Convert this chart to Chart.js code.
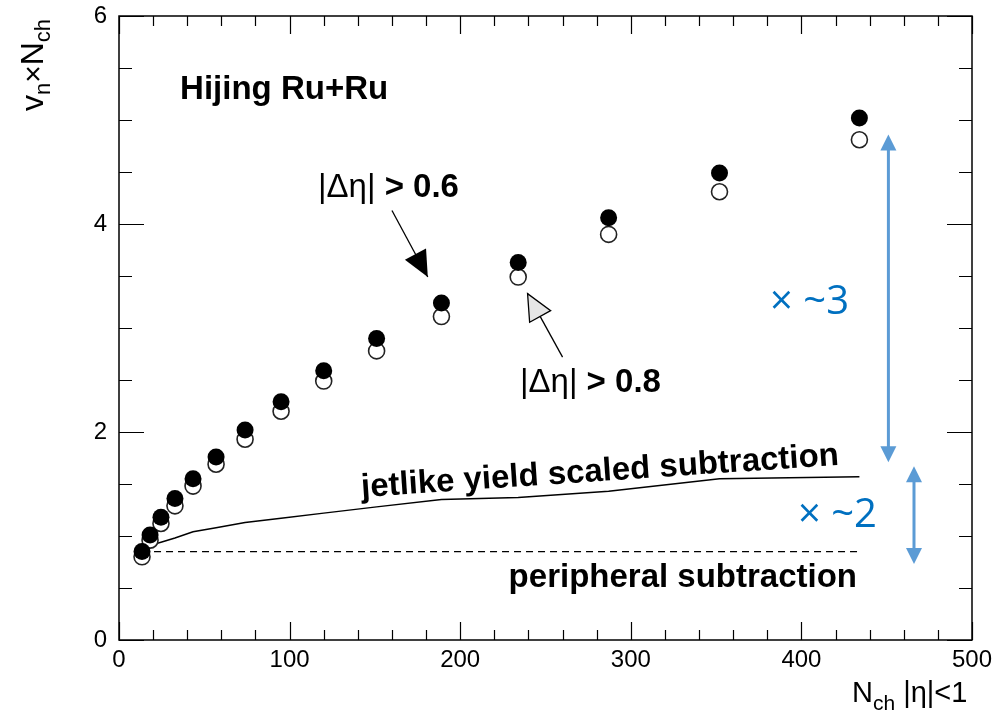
<!DOCTYPE html>
<html>
<head>
<meta charset="utf-8">
<script src="https://cdn.jsdelivr.net/npm/chart.js@4.4.0/dist/chart.umd.min.js"></script>
<style>
html, body { margin: 0; padding: 0; background: #fff; }
#wrap { width: 1007px; height: 721px; }
</style>
</head>
<body>
<div id="wrap"><canvas id="vnChart" width="1007" height="721"></canvas></div>
<script>
// Multiplicity bins (Nch, |eta|<1)
const nch = [13.5, 18.2, 24.6, 32.8, 43.4, 56.9, 73.9, 95, 120, 151, 189, 234, 287, 352, 434];
// vn x Nch for the two eta gaps
const vnEta06 = [0.85, 1.01, 1.18, 1.36, 1.55, 1.76, 2.02, 2.29, 2.59, 2.90, 3.24, 3.63, 4.06, 4.49, 5.02];
const vnEta08 = [0.80, 0.96, 1.12, 1.29, 1.48, 1.69, 1.93, 2.20, 2.49, 2.78, 3.11, 3.49, 3.90, 4.31, 4.81];
// Non-flow estimates
const jetlikeSub = [0.87, 0.91, 0.94, 0.98, 1.04, 1.08, 1.13, 1.17, 1.22, 1.28, 1.35, 1.37, 1.43, 1.55, 1.57];
const peripheralSub = [0.85, 0.85];
const peripheralX = [13.5, 434];
// Labelled ticks
const xTickLabels = [0, 100, 200, 300, 400, 500];
const yTickLabels = [0, 2, 4, 6];

const FONT = '"Liberation Sans", Arial, Helvetica, sans-serif';
const NARROW = '"Liberation Sans Narrow", "Arial Narrow", "Liberation Sans", sans-serif';
const BLUE_LINE = '#5b9bd5';
const BLUE_TEXT = '#0070c0';

function toPoints(xs, ys) {
    return xs.map((x, i) => ({ x: x, y: ys[i] }));
}

// Triangle head pointing at (x2, y2) along the x1,y1 -> x2,y2 direction
function drawArrowHead(ctx, x1, y1, x2, y2, len, half) {
    const ang = Math.atan2(y2 - y1, x2 - x1);
    const bx = x2 - len * Math.cos(ang);
    const by = y2 - len * Math.sin(ang);
    ctx.beginPath();
    ctx.moveTo(x2, y2);
    ctx.lineTo(bx + half * Math.sin(ang), by - half * Math.cos(ang));
    ctx.lineTo(bx - half * Math.sin(ang), by + half * Math.cos(ang));
    ctx.closePath();
}

// Draws a run of [text, size, weight, dy] pieces left to right
function drawRuns(ctx, runs, x, y, family) {
    let cx = x;
    runs.forEach(r => {
        ctx.font = `${r[2] || 'normal'} ${r[1]}px ${family || FONT}`;
        ctx.fillText(r[0], cx, y + (r[3] || 0));
        cx += ctx.measureText(r[0]).width;
    });
}

const frameAndLabels = {
    id: 'frameAndLabels',
    afterDatasetsDraw(chart) {
        const { ctx, chartArea: a, scales: { x, y } } = chart;
        const px = v => x.getPixelForValue(v);
        const py = v => y.getPixelForValue(v);
        ctx.save();

        // frame + inward ticks on all four sides
        ctx.strokeStyle = '#000';
        ctx.lineWidth = 1.5;
        ctx.strokeRect(a.left, a.top, a.width, a.height);
        ctx.lineWidth = 1.2;
        ctx.beginPath();
        x.ticks.forEach(t => {
            const p = Math.round(px(t.value)) + 0.5;
            const len = t.value % 100 === 0 ? 18 : 10;
            ctx.moveTo(p, a.bottom); ctx.lineTo(p, a.bottom - len);
            ctx.moveTo(p, a.top); ctx.lineTo(p, a.top + len);
        });
        y.ticks.forEach(t => {
            const p = Math.round(py(t.value)) + 0.5;
            const len = t.value % 2 === 0 ? 25 : 13;
            ctx.moveTo(a.left, p); ctx.lineTo(a.left + len, p);
            ctx.moveTo(a.right, p); ctx.lineTo(a.right - len, p);
        });
        ctx.stroke();

        ctx.fillStyle = '#000';
        ctx.textBaseline = 'alphabetic';
        ctx.textAlign = 'left';

        // axis titles
        drawRuns(ctx, [['N', 29], ['ch', 21, 'normal', 8], [' |\u03b7|<1', 29]], 852, 702);
        ctx.save();
        ctx.translate(43, 111);
        ctx.rotate(-Math.PI / 2);
        drawRuns(ctx, [['v', 32], ['n', 22, 'normal', 7], ['\u00d7', 30], ['N', 32], ['ch', 22, 'normal', 7]], 0, 0);
        ctx.restore();

        // labels
        ctx.font = `bold 33px ${FONT}`;
        ctx.fillText('Hijing Ru+Ru', px(35.8), py(5.20));
        drawRuns(ctx, [['|\u0394\u03b7|', 33], [' > 0.6', 33, 'bold']], px(116.6), py(4.26));
        drawRuns(ctx, [['|\u0394\u03b7|', 33], [' > 0.8', 33, 'bold']], px(235), py(2.38));
        ctx.font = `bold 33px ${FONT}`;
        ctx.textAlign = 'right';
        ctx.fillText('peripheral subtraction', px(432.6), py(0.51));
        ctx.textAlign = 'left';
        ctx.save();
        ctx.translate(px(142.3), py(1.375));
        ctx.rotate(-3.85 * Math.PI / 180);
        ctx.fillText('jetlike yield scaled subtraction', 0, 0);
        ctx.restore();

        // eta-gap pointers
        ctx.lineWidth = 1.3;
        ctx.strokeStyle = '#000';
        let x1 = px(160), y1 = py(4.13), x2 = px(181), y2 = py(3.49);
        ctx.beginPath(); ctx.moveTo(x1, y1); ctx.lineTo(x2, y2); ctx.stroke();
        drawArrowHead(ctx, x1, y1, x2, y2, 26, 12);
        ctx.fillStyle = '#000';
        ctx.fill();
        x1 = px(260); y1 = py(2.72); x2 = px(239.5); y2 = py(3.33);
        ctx.beginPath(); ctx.moveTo(x1, y1); ctx.lineTo(x2, y2); ctx.stroke();
        drawArrowHead(ctx, x1, y1, x2, y2, 26, 12);
        ctx.fillStyle = '#e6e6e6';
        ctx.fill();
        ctx.stroke();

        // double-headed ratio arrows
        ctx.strokeStyle = BLUE_LINE;
        ctx.fillStyle = BLUE_LINE;
        ctx.lineWidth = 3;
        [[451, 4.86, 1.71], [466, 1.67, 0.73]].forEach(d => {
            const ax = px(d[0]), top = py(d[1]), bot = py(d[2]);
            ctx.beginPath(); ctx.moveTo(ax, top + 12); ctx.lineTo(ax, bot - 12); ctx.stroke();
            drawArrowHead(ctx, ax, bot, ax, top, 16, 8); ctx.fill();
            drawArrowHead(ctx, ax, top, ax, bot, 16, 8); ctx.fill();
        });
        ctx.fillStyle = BLUE_TEXT;
        ctx.font = '40px "Open Sans", sans-serif';
        ctx.fillText('\u00d7 ~3', px(381.6), py(3.13));
        ctx.fillText('\u00d7 ~2', px(398), py(1.09));

        ctx.restore();
    }
};

const tickFont = { family: NARROW, size: 24 };

new Chart(document.getElementById('vnChart'), {
    type: 'scatter',
    data: {
        datasets: [
            {
                label: '|\u0394\u03b7| > 0.6',
                data: toPoints(nch, vnEta06),
                pointStyle: 'circle',
                pointRadius: 8.5,
                backgroundColor: '#000',
                borderColor: '#000',
                borderWidth: 0,
                order: 0
            },
            {
                label: '|\u0394\u03b7| > 0.8',
                data: toPoints(nch, vnEta08),
                pointStyle: 'circle',
                pointRadius: 8,
                backgroundColor: '#fff',
                borderColor: '#222',
                borderWidth: 1.6,
                order: 1
            },
            {
                label: 'jetlike yield scaled subtraction',
                data: toPoints(nch, jetlikeSub),
                showLine: true,
                pointRadius: 0,
                borderColor: '#000',
                borderWidth: 1.5,
                order: 2
            },
            {
                label: 'peripheral subtraction',
                data: toPoints(peripheralX, peripheralSub),
                showLine: true,
                pointRadius: 0,
                borderColor: '#000',
                borderWidth: 1.2,
                borderDash: [7, 5],
                order: 3
            }
        ]
    },
    options: {
        responsive: false,
        devicePixelRatio: 1,
        animation: false,
        events: [],
        layout: { padding: { top: 16, right: 35, left: 0, bottom: 0 } },
        plugins: { legend: { display: false }, tooltip: { enabled: false } },
        scales: {
            x: {
                type: 'linear',
                min: 0,
                max: 500,
                grid: { display: false, drawTicks: false },
                border: { display: false },
                ticks: {
                    stepSize: 20,
                    autoSkip: false,
                    maxRotation: 0,
                    padding: 6,
                    color: '#000',
                    font: tickFont,
                    callback: v => xTickLabels.includes(v) ? String(v) : ''
                },
                afterFit: s => { s.height = 81; s.paddingLeft = 0; s.paddingRight = 0; }
            },
            y: {
                type: 'linear',
                min: 0,
                max: 6,
                grid: { display: false, drawTicks: false },
                border: { display: false },
                ticks: {
                    stepSize: 0.5,
                    autoSkip: false,
                    padding: 12,
                    color: '#000',
                    font: tickFont,
                    callback: v => yTickLabels.includes(v) ? String(v) : ''
                },
                // keep the plot frame fixed; edge labels may overhang
                afterFit: s => { s.width = 119; s.paddingTop = 0; s.paddingBottom = 0; }
            }
        }
    },
    plugins: [frameAndLabels]
});
</script>
</body>
</html>
